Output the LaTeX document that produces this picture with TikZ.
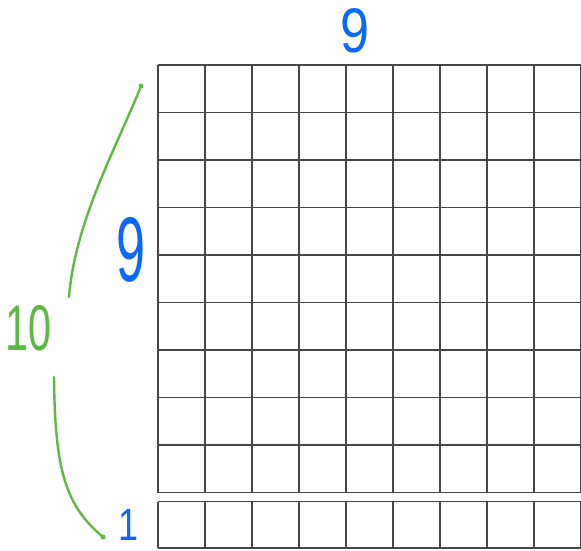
\documentclass[tikz,border=0pt]{standalone}
\usepackage{fontspec}
\setmainfont{Liberation Sans}
\definecolor{inkblue}{RGB}{10,104,250}
\definecolor{inkgreen}{RGB}{96,184,68}
\begin{document}
\begin{tikzpicture}[x=1pt,y=-1pt,
  gridline/.style={draw=black!72, line width=1.3pt},
  bluelabel/.style={text=inkblue, inner sep=0pt},
  greenlabel/.style={text=inkgreen, inner sep=0pt},
  brace/.style={draw=inkgreen, line width=2.4pt, line cap=round}]
\useasboundingbox (0,0) rectangle (581,550);
% 9 x 9 grid
\foreach \i in {0,...,9} \draw[gridline] (158+47*\i,65) -- (158+47*\i,492.5);
\foreach \j in {0,...,9} \draw[gridline] (158,65+47.5*\j) -- (581,65+47.5*\j);
% separate row
\foreach \i in {0,...,9} \draw[gridline] (158+47*\i,501.5) -- (158+47*\i,548);
\draw[gridline] (158,501.5) -- (581,501.5);
\draw[gridline] (158,548) -- (581,548);
% labels
\node[bluelabel] (top) at (355,31) {\resizebox{29pt}{44pt}{9}};
\node[bluelabel] (side) at (131,250) {\resizebox{29pt}{64pt}{9}};
\node[greenlabel] (ten) at (29,328) {\resizebox{46pt}{45pt}{10}};
\node[bluelabel] (one) at (129,525) {\resizebox{20pt}{31pt}{1}};
% green strokes
\coordinate (ua) at (141,86);
\coordinate (ub) at (69,297);
\coordinate (la) at (54,377);
\coordinate (lb) at (103,537);
\draw[brace] (ua) .. controls (120,140) and (75,220) .. (ub);
\draw[brace] (la) .. controls (55,470) and (65,505) .. (lb);
\fill[inkgreen] (ua) circle (2.5);
\fill[inkgreen] (lb) circle (2.5);
\end{tikzpicture}
\end{document}
